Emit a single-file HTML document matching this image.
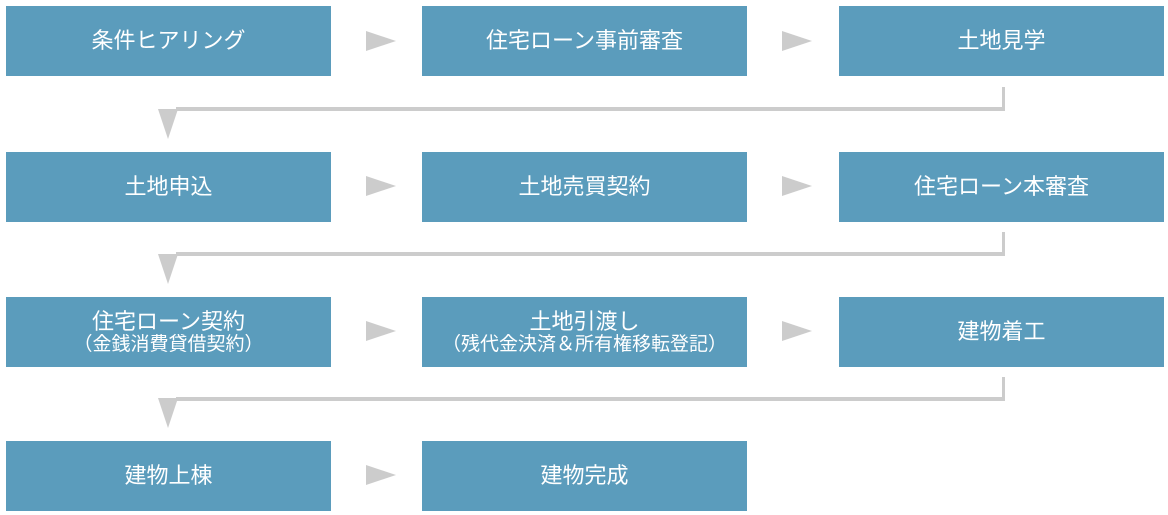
<!DOCTYPE html>
<html><head><meta charset="utf-8"><style>
body{margin:0;width:1168px;height:515px;background:#fff;overflow:hidden;position:relative;font-family:"Liberation Sans","Noto Sans CJK JP",sans-serif}
.b{position:absolute;width:325px;height:70px;background:#5b9cbc;color:#fff;display:flex;flex-direction:column;align-items:center;justify-content:center;font-size:22px;line-height:24px;text-align:center}
.s{font-size:19px;line-height:21px}
svg{position:absolute;left:0;top:0}
</style></head><body>
<svg width="1168" height="515">
<g fill="#cccccc">
<polygon points="366,31 396,41 366,51"/><polygon points="782,31 812,41 782,51"/>
<polygon points="366,176 396,186 366,196"/><polygon points="782,176 812,186 782,196"/>
<polygon points="366,321 396,331 366,341"/><polygon points="782,321 812,331 782,341"/>
<polygon points="366,465 396,475 366,485"/>
<polygon points="158,109 178,109 168,139"/><polygon points="158,254 178,254 168,284"/><polygon points="158,398 178,398 168,428"/>
<rect x="1002" y="87" width="3" height="24"/><rect x="176" y="107" width="829" height="4"/>
<rect x="1002" y="232" width="3" height="24"/><rect x="176" y="252" width="829" height="4"/>
<rect x="1002" y="377" width="3" height="24"/><rect x="176" y="397" width="829" height="4"/>
</g></svg>
<div class="b" style="left:6px;top:6px">条件ヒアリング</div>
<div class="b" style="left:422px;top:6px">住宅ローン事前審査</div>
<div class="b" style="left:839px;top:6px">土地見学</div>
<div class="b" style="left:6px;top:152px">土地申込</div>
<div class="b" style="left:422px;top:152px">土地売買契約</div>
<div class="b" style="left:839px;top:152px">住宅ローン本審査</div>
<div class="b" style="left:6px;top:297px">住宅ローン契約<span class="s">（金銭消費貸借契約）</span></div>
<div class="b" style="left:422px;top:297px">土地引渡し<span class="s">（残代金決済＆所有権移転登記）</span></div>
<div class="b" style="left:839px;top:297px">建物着工</div>
<div class="b" style="left:6px;top:441px">建物上棟</div>
<div class="b" style="left:422px;top:441px">建物完成</div>
</body></html>
